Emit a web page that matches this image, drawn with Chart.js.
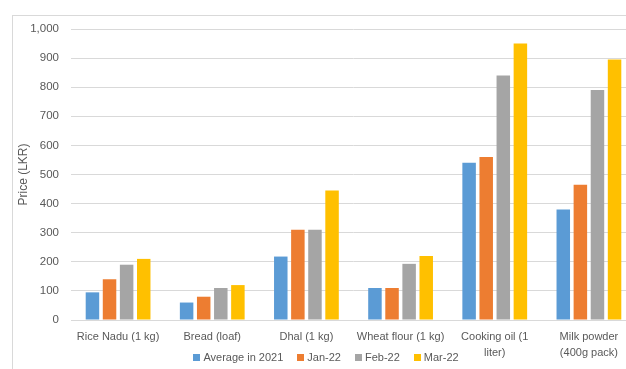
<!DOCTYPE html>
<html>
<head>
<meta charset="utf-8">
<script src="https://cdn.jsdelivr.net/npm/chart.js@4"></script>
<style>
  html, body { margin: 0; padding: 0; background: #fff; overflow: hidden; }
  #wrap { position: absolute; left: 0; top: 0; width: 652px; height: 369px; }
</style>
</head>
<body>
<div id="wrap"><canvas id="c" width="652" height="369"></canvas></div>
<script>
// Food prices in Sri Lanka (LKR)
const categories = [
  'Rice Nadu (1 kg)',
  'Bread (loaf)',
  'Dhal (1 kg)',
  'Wheat flour (1 kg)',
  ['Cooking oil (1', 'liter)'],
  ['Milk powder', '(400g pack)']
];
const seriesNames = ['Average in 2021', 'Jan-22', 'Feb-22', 'Mar-22'];
const avg2021 = [95, 60, 218, 110, 540, 380];
const jan22   = [140, 80, 310, 110, 560, 465];
const feb22   = [190, 110, 310, 193, 840, 790];
const mar22   = [210, 120, 445, 220, 950, 895];
const seriesColors = ['#5B9BD5', '#ED7D31', '#A5A5A5', '#FFC000'];
const yTicks = { min: 0, max: 1000, step: 100 };

const textColor = '#595959';
const gridColor = '#D9D9D9';
const fontFamily = "'Liberation Sans', Arial, sans-serif";
const font = { family: fontFamily, size: 11, lineHeight: 1.45 };

const seriesValues = [avg2021, jan22, feb22, mar22];

// outer chart frame
const framePlugin = {
  id: 'frame',
  beforeDraw(chart) {
    const ctx = chart.ctx;
    ctx.save();
    ctx.fillStyle = '#fff';
    ctx.fillRect(0, 0, chart.width, chart.height);
    ctx.strokeStyle = gridColor;
    ctx.lineWidth = 1;
    ctx.strokeRect(12.5, 15.5, 800, 500);
    ctx.restore();
  }
};

// legend row drawn across the bottom, centred under the chart
const bottomLegend = {
  id: 'bottomLegend',
  afterDraw(chart) {
    const ctx = chart.ctx;
    const box = 7, gapText = 3, gapItem = 14, y = 357.5;
    ctx.save();
    ctx.font = '11px ' + fontFamily;
    ctx.textBaseline = 'middle';
    const items = chart.data.datasets.map(ds => ({
      text: ds.label, color: ds.backgroundColor, w: ctx.measureText(ds.label).width
    }));
    const total = items.reduce((s, it) => s + box + gapText + it.w, 0) + gapItem * (items.length - 1);
    let x = 326 - total / 2;
    items.forEach(it => {
      ctx.fillStyle = it.color;
      ctx.fillRect(Math.round(x), Math.round(y - box / 2), box, box);
      ctx.fillStyle = textColor;
      ctx.fillText(it.text, x + box + gapText, y);
      x += box + gapText + it.w + gapItem;
    });
    ctx.restore();
  }
};

new Chart(document.getElementById('c'), {
  type: 'bar',
  data: {
    labels: categories,
    datasets: seriesNames.map((name, i) => ({
      label: name,
      data: seriesValues[i],
      backgroundColor: seriesColors[i],
      borderWidth: 0,
      categoryPercentage: 0.726,
      barPercentage: 0.79
    }))
  },
  options: {
    responsive: false,
    animation: false,
    devicePixelRatio: 1,
    layout: { padding: { top: 29, right: 16, bottom: 0, left: 0 } },
    plugins: {
      legend: { display: false },
      tooltip: { enabled: false }
    },
    scales: {
      x: {
        grid: { display: false, drawTicks: false },
        border: { color: gridColor },
        ticks: { color: textColor, font: font, padding: 9, maxRotation: 0, autoSkip: false },
        afterFit(scale) { scale.height = 49; }
      },
      y: {
        min: yTicks.min,
        max: yTicks.max,
        grid: { color: gridColor, drawTicks: false },
        border: { display: false },
        ticks: { stepSize: yTicks.step, color: textColor, font: { family: fontFamily, size: 11.5 }, padding: 12 },
        title: { display: true, text: 'Price (LKR)', color: textColor, font: { family: fontFamily, size: 12 }, padding: { top: 16, bottom: 0 } },
        afterFit(scale) { scale.width = 71; }
      }
    }
  },
  plugins: [framePlugin, bottomLegend]
});
</script>
</body>
</html>
